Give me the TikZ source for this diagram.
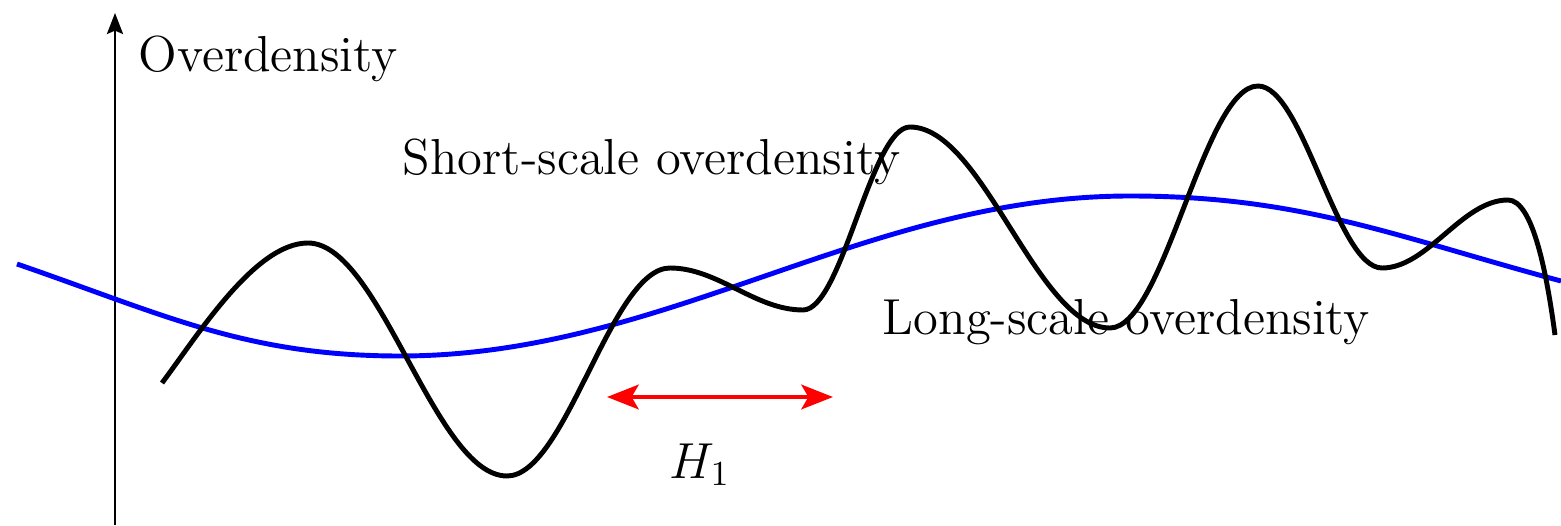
\documentclass[tikz,border=0pt]{standalone}
\usetikzlibrary{arrows.meta, positioning}

\begin{document}
\begin{tikzpicture}[
    curve/.style={line width=1.4pt},
    longcurve/.style={line width=1.4pt, blue},
    axis/.style={-{Stealth[length=6pt, width=4.6pt, inset=1pt]}, line width=0.6pt},
    arr/.style={{Stealth[length=9pt, width=7pt, inset=2pt]}-{Stealth[length=9pt, width=7pt, inset=2pt]}, line width=1.2pt, red},
    lbl/.style={font=\Large, inner sep=0pt, anchor=base west}
]
\useasboundingbox (0,0) rectangle (15.61,5.25);

% ---- vertical axis ----
\coordinate (ax_bot) at (1.15, 0);
\coordinate (ax_top) at (1.15, 5.12);
\draw[axis] (ax_bot) -- (ax_top);
\node[lbl] (ylab) at (1.38, 4.53) {Overdensity};

% ---- long-scale mode (blue) ----
\draw[longcurve] (0.17, 2.61) to[out=-19, in=180] (4.00, 1.69)
    .. controls +(2.65, 0) and +(-2.65, 0) .. (11.30, 3.29)
    to[out=0, in=165] (15.61, 2.44);

% ---- short-scale mode (black) ----
\draw[curve] (1.62, 1.42) .. controls +(0.36, 0.48) and +(-0.53, 0) .. (3.08, 2.82)
    .. controls +(0.72, 0) and +(-0.72, 0) .. (5.07, 0.49)
    .. controls +(0.59, 0) and +(-0.59, 0) .. (6.70, 2.57)
    .. controls +(0.48, 0) and +(-0.48, 0) .. (8.03, 2.15)
    .. controls +(0.39, 0) and +(-0.39, 0) .. (9.10, 3.98)
    .. controls +(0.73, 0) and +(-0.73, 0) .. (11.10, 1.97)
    .. controls +(0.54, 0) and +(-0.54, 0) .. (12.58, 4.39)
    .. controls +(0.45, 0) and +(-0.45, 0) .. (13.82, 2.57)
    .. controls +(0.46, 0) and +(-0.46, 0) .. (15.08, 3.25)
    .. controls +(0.25, 0) and +(-0.08, 0.6) .. (15.55, 1.90);

% ---- labels ----
\node[lbl] (short) at (4.02, 3.50) {Short-scale overdensity};
\node[lbl] (long)  at (8.82, 1.90) {Long-scale overdensity};

% ---- horizon scale ----
\coordinate (h_left)  at (6.07, 1.28);
\coordinate (h_right) at (8.33, 1.28);
\draw[arr] (h_left) -- (h_right);
\node[font=\Large, inner sep=0pt, anchor=base] (hlab) at (7.00, 0.47) {$H_1$};

\end{tikzpicture}
\end{document}
